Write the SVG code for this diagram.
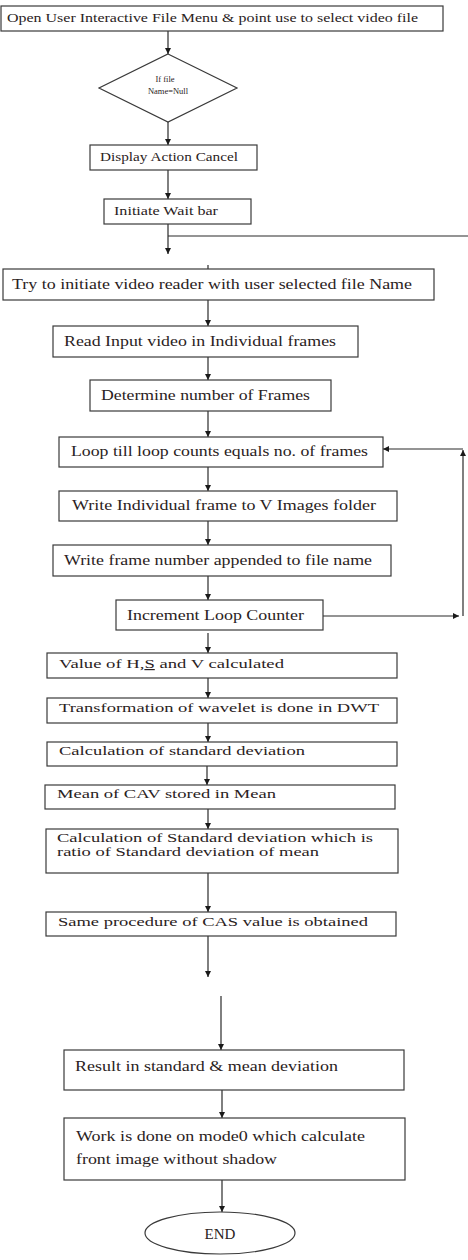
<svg xmlns="http://www.w3.org/2000/svg" width="468" height="1260" viewBox="0 0 468 1260">
<style>
.b{fill:#fff;stroke:#3a3a3a;stroke-width:1.2}
.t{font-family:"Liberation Serif","Times New Roman",serif;fill:#2a2222}
.c{stroke:#2a2a2a;stroke-width:1.2;fill:none}
.a{stroke:#2a2a2a;stroke-width:1.2;fill:none;marker-end:url(#ah)}
</style>
<defs>
<marker id="ah" viewBox="0 0 10 10" refX="10" refY="5" markerWidth="6" markerHeight="6" markerUnits="userSpaceOnUse" orient="auto">
<path d="M0,0 L10,5 L0,10 z" fill="#1a1a1a"/>
</marker>
</defs>
<rect width="468" height="1260" fill="#fff"/>
<g id="connectors">
<line class="a" x1="168" y1="31" x2="168" y2="54"/>
<line class="a" x1="168" y1="122" x2="168" y2="145"/>
<line class="a" x1="168" y1="170" x2="168" y2="199"/>
<line class="a" x1="168" y1="224" x2="168" y2="254"/>
<line class="c" x1="168" y1="236" x2="468" y2="236"/>
<line class="c" x1="208" y1="265" x2="208" y2="269"/>
<line class="a" x1="208" y1="300" x2="208" y2="326"/>
<line class="a" x1="208" y1="357" x2="208" y2="380"/>
<line class="a" x1="208" y1="411" x2="208" y2="437"/>
<line class="a" x1="208" y1="467" x2="208" y2="491"/>
<line class="a" x1="208" y1="521" x2="208" y2="545"/>
<line class="a" x1="208" y1="576" x2="208" y2="600"/>
<line class="a" x1="323" y1="616" x2="459" y2="616"/>
<line class="a" x1="463" y1="616" x2="463" y2="450"/>
<line class="a" x1="463" y1="449" x2="383" y2="449"/>
<line class="a" x1="208" y1="633" x2="208" y2="653"/>
<line class="a" x1="208" y1="678" x2="208" y2="698"/>
<line class="a" x1="208" y1="723" x2="208" y2="742"/>
<line class="a" x1="207" y1="766" x2="207" y2="785"/>
<line class="a" x1="208" y1="809" x2="208" y2="829"/>
<line class="a" x1="208" y1="873" x2="208" y2="912"/>
<line class="a" x1="208" y1="936" x2="208" y2="977"/>
<line class="a" x1="221" y1="996" x2="221" y2="1050"/>
<line class="a" x1="222" y1="1090" x2="222" y2="1118"/>
<line class="a" x1="222" y1="1180" x2="222" y2="1212"/>
</g>
<g id="n1"><rect class="b" x="1" y="6" width="442" height="25"/><text class="t" x="7" y="22" font-size="13.5" textLength="411" lengthAdjust="spacingAndGlyphs">Open User Interactive File Menu &amp; point use to select video file</text></g>
<g id="n2"><polygon class="b" points="168,54 237,88 168,122 99,88"/><text class="t" x="165" y="82" font-size="8.5" text-anchor="middle">If file</text><text class="t" x="168" y="94" font-size="8.5" text-anchor="middle">Name=Null</text></g>
<g id="n3"><rect class="b" x="90" y="145" width="167" height="25"/><text class="t" x="100" y="161" font-size="13.5" textLength="138" lengthAdjust="spacingAndGlyphs">Display Action Cancel</text></g>
<g id="n4"><rect class="b" x="104" y="199" width="147" height="25"/><text class="t" x="114" y="215" font-size="13.5" textLength="104" lengthAdjust="spacingAndGlyphs">Initiate Wait bar</text></g>
<g id="n5"><rect class="b" x="3" y="269" width="431" height="31"/><text class="t" x="12" y="289" font-size="15" textLength="400" lengthAdjust="spacingAndGlyphs">Try to initiate video reader with user selected file Name</text></g>
<g id="n6"><rect class="b" x="53" y="326" width="305" height="31"/><text class="t" x="64" y="346" font-size="14" textLength="272" lengthAdjust="spacingAndGlyphs">Read Input video in Individual frames</text></g>
<g id="n7"><rect class="b" x="90" y="380" width="241" height="31"/><text class="t" x="101" y="400" font-size="14" textLength="209" lengthAdjust="spacingAndGlyphs">Determine number of Frames</text></g>
<g id="n8"><rect class="b" x="59" y="437" width="324" height="30"/><text class="t" x="71" y="456" font-size="14" textLength="297" lengthAdjust="spacingAndGlyphs">Loop till loop counts equals no. of frames</text></g>
<g id="n9"><rect class="b" x="59" y="491" width="338" height="30"/><text class="t" x="72" y="510" font-size="14" textLength="304" lengthAdjust="spacingAndGlyphs">Write Individual frame to V Images folder</text></g>
<g id="n10"><rect class="b" x="53" y="545" width="338" height="31"/><text class="t" x="64" y="565" font-size="14" textLength="308" lengthAdjust="spacingAndGlyphs">Write frame number appended to file name</text></g>
<g id="n11"><rect class="b" x="116" y="600" width="207" height="30"/><text class="t" x="127" y="620" font-size="14" textLength="177" lengthAdjust="spacingAndGlyphs">Increment Loop Counter</text></g>
<g id="n12"><rect class="b" x="47" y="653" width="350" height="25"/><text class="t" x="59" y="668" font-size="12" textLength="225" lengthAdjust="spacingAndGlyphs">Value of H,<tspan text-decoration="underline">S</tspan> and V calculated</text></g>
<g id="n13"><rect class="b" x="47" y="698" width="350" height="25"/><text class="t" x="59" y="712" font-size="12" textLength="320" lengthAdjust="spacingAndGlyphs">Transformation of wavelet is done in DWT</text></g>
<g id="n14"><rect class="b" x="47" y="742" width="350" height="24"/><text class="t" x="59" y="755" font-size="12" textLength="246" lengthAdjust="spacingAndGlyphs">Calculation of standard deviation</text></g>
<g id="n15"><rect class="b" x="45" y="785" width="350" height="24"/><text class="t" x="57" y="798" font-size="12" textLength="219" lengthAdjust="spacingAndGlyphs">Mean of CAV stored in Mean</text></g>
<g id="n16"><rect class="b" x="46" y="829" width="352" height="44"/><text class="t" x="57" y="842" font-size="12" textLength="316" lengthAdjust="spacingAndGlyphs">Calculation of Standard deviation which is</text><text class="t" x="57" y="856" font-size="12" textLength="262" lengthAdjust="spacingAndGlyphs">ratio of Standard deviation of mean</text></g>
<g id="n17"><rect class="b" x="46" y="912" width="350" height="24"/><text class="t" x="58" y="926" font-size="12" textLength="310" lengthAdjust="spacingAndGlyphs">Same procedure of CAS value is obtained</text></g>
<g id="n18"><rect class="b" x="64" y="1050" width="340" height="40"/><text class="t" x="75" y="1071" font-size="15" textLength="263" lengthAdjust="spacingAndGlyphs">Result in standard &amp; mean deviation</text></g>
<g id="n19"><rect class="b" x="64" y="1118" width="341" height="62"/><text class="t" x="76" y="1141" font-size="15" textLength="289" lengthAdjust="spacingAndGlyphs">Work is done on mode0 which calculate</text><text class="t" x="76" y="1164" font-size="15" textLength="201" lengthAdjust="spacingAndGlyphs">front image without shadow</text></g>
<g id="n20"><ellipse class="b" cx="220" cy="1233" rx="75" ry="21"/><text class="t" x="220" y="1239" font-size="15" text-anchor="middle">END</text></g>
</svg>
